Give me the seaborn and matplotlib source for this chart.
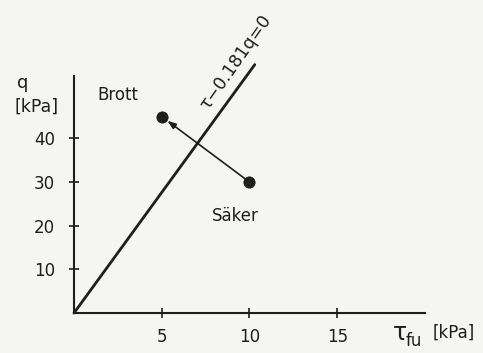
import numpy as np
import pandas as pd
import seaborn as sns
import matplotlib.pyplot as plt

# Failure line tau - c*q = 0
coeff = 0.181
line_tau = [0.0, 10.3]

# States
state_names = ["Säker", "Brott"]
state_tau = [10.0, 5.0]
state_q = [30.0, 45.0]

x_ticks = [5, 10, 15]
y_ticks = [10, 20, 30, 40]

ink = "#1e1e1e"
paper = "#f5f5f4"

sns.set_style("ticks")
plt.rcParams["font.family"] = ["DejaVu Sans"]

fig = plt.figure(figsize=(4.83, 3.53), dpi=100, facecolor=paper)
ax = fig.add_axes([0.1532, 0.1133, 0.7267, 0.6714])
ax.set_facecolor(paper)

line_df = pd.DataFrame({"tau": line_tau, "q": [t / coeff for t in line_tau]})
sns.lineplot(data=line_df, x="tau", y="q", ax=ax, color=ink, lw=2.0, clip_on=False)

pts = pd.DataFrame({"tau": state_tau, "q": state_q, "state": state_names})
sns.scatterplot(data=pts, x="tau", y="q", ax=ax, color=ink, s=65, edgecolor=ink,
                zorder=5, clip_on=False, legend=False)

# arrow from the safe state towards failure
ax.annotate("", xy=(state_tau[1], state_q[1]), xytext=(state_tau[0], state_q[0]),
            arrowprops=dict(arrowstyle="-|>,head_length=0.5,head_width=0.18",
                            color=ink, lw=1.2, shrinkA=4, shrinkB=5))

ax.text(2.51, 50.0, "Brott", ha="center", va="center", fontsize=12, color=ink)
ax.text(9.2, 22.2, "Säker", ha="center", va="center", fontsize=12, color=ink)
ax.text(9.2, 57.4, "τ−0.181q=0", rotation=55, ha="center", va="center",
        fontsize=12.5, color=ink, clip_on=False)

ax.set_xlim(0, 20)
ax.set_ylim(0, 54.3)
ax.set_xticks(x_ticks)
ax.set_yticks(y_ticks)
ax.set_xlabel("")
ax.set_ylabel("")
sns.despine(ax=ax)
for side in ("left", "bottom"):
    ax.spines[side].set_linewidth(1.5)
    ax.spines[side].set_color(ink)
ax.tick_params(direction="inout", length=7, width=1.2, color=ink,
               labelsize=12, labelcolor=ink)
ax.tick_params(axis="x", pad=7)
ax.tick_params(axis="y", pad=10)

# axis titles
fig.text(23 / 483, 1 - 83 / 353, "q", ha="center", va="center", fontsize=13, color=ink)
fig.text(37 / 483, 1 - 107 / 353, "[kPa]", ha="center", va="center", fontsize=12.5, color=ink)
fig.text(393 / 483, 1 - 333 / 353, "τ", ha="left", va="center", fontsize=17, color=ink)
fig.text(406 / 483, 1 - 341 / 353, "fu", ha="left", va="center", fontsize=12, color=ink)
fig.text(433 / 483, 1 - 333 / 353, "[kPa]", ha="left", va="center", fontsize=12, color=ink)

fig.savefig("out.png", dpi=100, facecolor=paper)
